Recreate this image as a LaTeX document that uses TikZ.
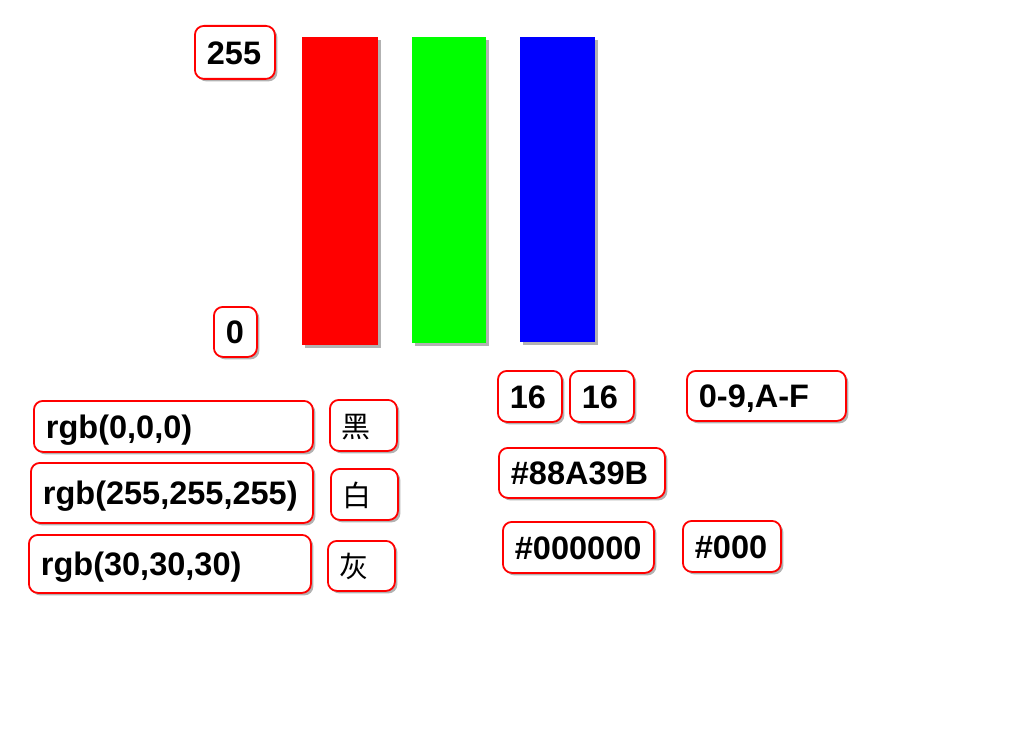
\documentclass[tikz,border=0pt]{standalone}
\usepackage{fontspec}
\setmainfont{Liberation Sans}
\newfontfamily\cjk{Noto Sans CJK SC}
\usetikzlibrary{shadows}
\newcommand{\lt}[2]{\makebox[#1pt][l]{#2}}
\tikzset{
  shad/.style={drop shadow={shadow xshift=2.5pt, shadow yshift=-2.5pt, fill=black, opacity=0.3}},
  box/.style={draw=red, line width=1.8pt, rounded corners=9pt, fill=white, shad,
    anchor=north west, inner xsep=12pt, inner ysep=1pt,
    text height=23.4pt, text depth=0pt,
    font=\fontsize{32.5}{34}\selectfont\bfseries},
  cbox/.style={box, text height=24pt, font=\fontsize{29}{32}\selectfont\cjk},
  bar/.style={anchor=north west, inner sep=0pt, shad, draw=none}
}
\begin{document}
\begin{tikzpicture}[x=1pt,y=-1pt]
\useasboundingbox (0,0) rectangle (1024,738);
% bars
\node[bar, fill=red, minimum width=76pt, minimum height=308pt] (R) at (302,37) {};
\node[bar, fill={rgb,255:red,0;green,255;blue,0}, minimum width=74pt, minimum height=306pt] (G) at (412,37) {};
\node[bar, fill=blue, minimum width=75pt, minimum height=305pt] (B) at (520,37) {};
% scale labels
\node[box, minimum height=53pt] (max) at (194,25) {\lt{56}{255}};
\node[box, minimum height=50pt] (min) at (213,306) {\lt{19}{0}};
% rgb boxes
\node[box, minimum height=51pt] (black) at (33,400) {\lt{255}{rgb(0,0,0)}};
\node[box, minimum height=60pt] (white) at (30,462) {\lt{258}{rgb(255,255,255)}};
\node[box, minimum height=58pt] (gray) at (28,534) {\lt{258}{rgb(30,30,30)}};
\node[cbox, minimum height=51pt] (hei) at (329,399) {\lt{43}{黑}};
\node[cbox, minimum height=51pt] (bai) at (330,468) {\lt{43}{白}};
\node[cbox, minimum height=50pt] (hui) at (327,540) {\lt{43}{灰}};
% hex boxes
\node[box, minimum height=51pt] (sixa) at (497,370) {\lt{40}{16}};
\node[box, minimum height=51pt] (sixb) at (569,370) {\lt{40}{16}};
\node[box, minimum height=50pt] (digits) at (686,370) {\lt{135}{0-9,A-F}};
\node[box, minimum height=50pt] (hex) at (498,447) {\lt{142}{\#88A39B}};
\node[box, minimum height=51pt] (hexl) at (502,521) {\lt{127}{\#000000}};
\node[box, minimum height=51pt] (hexs) at (682,520) {\lt{74}{\#000}};
\end{tikzpicture}
\end{document}
